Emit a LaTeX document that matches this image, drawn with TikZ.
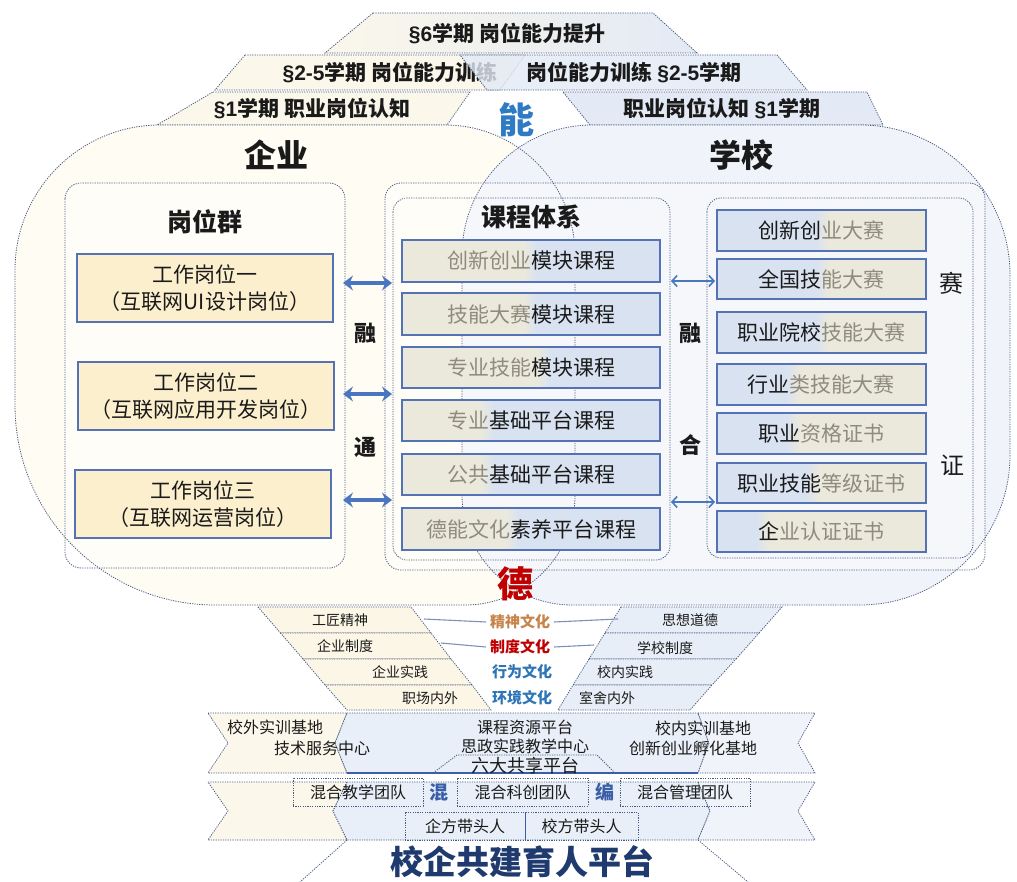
\documentclass[tikz,border=0pt]{standalone}
\usepackage{fontspec}
\setmainfont{Noto Sans CJK SC}
\newfontfamily\lat{Liberation Sans}
\usetikzlibrary{arrows.meta}
\definecolor{dotc}{HTML}{4A5A80}
\definecolor{crm}{HTML}{FBF7EA}
\definecolor{blu}{HTML}{E3EAF5}
\definecolor{entf}{HTML}{FFFCF3}
\definecolor{schf}{HTML}{F0F4FA}
\definecolor{jobf}{HTML}{FCEFCD}
\definecolor{boxb}{HTML}{5573B4}
\definecolor{ccr}{HTML}{EBE9DC}
\definecolor{cbl}{HTML}{D8E2F1}
\definecolor{gtx}{HTML}{8F8C7E}
\definecolor{arrc}{HTML}{4A76C0}
\definecolor{nengc}{HTML}{2E7BC4}
\definecolor{dec}{HTML}{C00000}
\definecolor{jsc}{HTML}{C7834A}
\definecolor{xwc}{HTML}{2E75B6}
\definecolor{titc}{HTML}{1F3A6E}
\definecolor{hunc}{HTML}{3A5FA8}
\definecolor{txt}{HTML}{1A1A1A}
\definecolor{connc}{HTML}{7D90B5}
\definecolor{lrow}{HTML}{FBF6E6}
\definecolor{rrow}{HTML}{E8EEF7}
\definecolor{midb}{HTML}{E9EFF8}
\newcommand{\fz}[1]{\fontsize{#1}{#1}\selectfont}
\newcommand{\cbox}[6]{%
  \fill[cbl] (402,#2) rectangle (660,#3);
  \fill[ccr] (402,#2) rectangle ({#4-7},#3);
  \shade[left color=ccr,right color=cbl] ({#4-7},#2) rectangle ({#4+7},#3);
  \draw[boxline] (402,#2) rectangle (660,#3);
  \node[font=\fz{21}] (#1) at (531,{(#2+#3)/2}) {\textcolor{gtx}{#5}#6};
}
\newcommand{\rbox}[6]{%
  \fill[ccr] (717,#2) rectangle (926,#3);
  \fill[cbl] (717,#2) rectangle ({#4-7},#3);
  \shade[left color=cbl,right color=ccr] ({#4-7},#2) rectangle ({#4+7},#3);
  \draw[boxline] (717,#2) rectangle (926,#3);
  \node[font=\fz{21}] (#1) at (821,{(#2+#3)/2}) {#5\textcolor{gtx}{#6}};
}
\begin{document}
\begin{tikzpicture}[x=1pt,y=-1pt,
 every node/.style={inner sep=0pt,outer sep=0pt,text=txt},
 dotline/.style={draw=dotc,line width=0.8pt,dash pattern=on 1.2pt off 1.2pt},
 boxline/.style={draw=boxb,line width=1.1pt},
 barrow/.style={arrows={Stealth[length=10pt,width=15pt,inset=3.5pt]-Stealth[length=10pt,width=15pt,inset=3.5pt]},line width=3.2pt,draw=arrc},
 sarrow/.style={arrows={Straight Barb[length=5pt,width=11pt]-Straight Barb[length=5pt,width=11pt]},line width=1.6pt,draw=arrc},
 conn/.style={draw=connc,line width=1.1pt},
 jobbox/.style={draw=boxb,line width=1.1pt,fill=jobf,minimum width=256pt,minimum height=68pt,align=center,font=\fontsize{21}{27}\selectfont},
 tbox/.style={dotline,minimum height=28pt,font=\fz{16}},
 bandtxt/.style={font=\fz{21}\bfseries},
 big/.style={font=\fz{32}\bfseries},
 sub/.style={font=\fz{25}\bfseries},
 rong/.style={font=\fz{22}\bfseries},
 cul/.style={font=\fz{14}},
 culc/.style={font=\fz{15}\bfseries},
 plat/.style={font=\fz{16}},
]
\fill[white] (0,0) rectangle (1017,882);
\useasboundingbox (0,0) rectangle (1017,882);

% ---- top bands ----
\shadedraw[left color=crm,right color=blu,dotline] (373,13) -- (653,13) -- (697,53) -- (325,53) -- cycle;
\node[bandtxt] (t6) at (507,34) {{\lat §6}学期 岗位能力提升};
\filldraw[fill=crm,dotline] (245,55) -- (525,55) -- (500,90) -- (215,90) -- cycle;
\node[bandtxt] (t25l) at (390,73) {{\lat §2-5}学期 岗位能力训练};
\filldraw[fill=blu,fill opacity=0.8,dotline] (460,55) -- (777,55) -- (807,90) -- (487,90) -- cycle;
\node[bandtxt] (t25r) at (634,73) {岗位能力训练 {\lat §2-5}学期};
\filldraw[fill=crm,dotline] (213,92) -- (470,92) -- (447,125) -- (157,125) -- cycle;
\node[bandtxt] (t1l) at (312,109) {{\lat §1}学期 职业岗位认知};
\filldraw[fill=blu,dotline] (563,92) -- (867,92) -- (883,125) -- (590,125) -- cycle;
\node[bandtxt] (t1r) at (722,109) {职业岗位认知 {\lat §1}学期};

% ---- big shapes fill ----
\path[fill=entf] (15,270) arc[start angle=180,end angle=270,radius=145] -- (445,125) arc[start angle=270,end angle=360,radius=130] -- (575,495) arc[start angle=0,end angle=90,radius=110] -- (215,605) arc[start angle=90,end angle=180,radius=200] -- cycle;
\path[fill=schf] (462,255) arc[start angle=180,end angle=270,radius=130] -- (860,125) arc[start angle=270,end angle=360,radius=150] -- (1010,455) arc[start angle=0,end angle=90,radius=150] -- (572,605) arc[start angle=90,end angle=180,radius=110] -- cycle;

% ---- frames ----
\filldraw[dotline,fill=white,fill opacity=0.45,rounded corners=16pt] (65,183) rectangle (345,568);
\filldraw[dotline,fill=white,fill opacity=0.35,rounded corners=16pt] (385,183) rectangle (985,570);
\draw[dotline,rounded corners=14pt] (393,198) rectangle (670,560);
\draw[dotline,rounded corners=14pt] (707,198) rectangle (973,558);

% ---- big shapes outline ----
\draw[dotline] (15,270) arc[start angle=180,end angle=270,radius=145] -- (445,125) arc[start angle=270,end angle=360,radius=130] -- (575,495) arc[start angle=0,end angle=90,radius=110] -- (215,605) arc[start angle=90,end angle=180,radius=200] -- cycle;
\draw[dotline] (462,255) arc[start angle=180,end angle=270,radius=130] -- (860,125) arc[start angle=270,end angle=360,radius=150] -- (1010,455) arc[start angle=0,end angle=90,radius=150] -- (572,605) arc[start angle=90,end angle=180,radius=110] -- cycle;

% ---- titles ----
\node[font=\fz{36}\bfseries,text=nengc] (neng) at (516,120) {能};
\node[big] (qiye) at (276,155) {企业};
\node[big] (xuexiao) at (741,155) {学校};
\node[sub] (gwq) at (205,222) {岗位群};
\node[sub] (kctx) at (531,217) {课程体系};

% ---- job boxes ----
\node[jobbox] (job1) at (205,288) {工作岗位一\\（互联网UI设计岗位）};
\node[jobbox] (job2) at (206,396) {工作岗位二\\（互联网应用开发岗位）};
\node[jobbox] (job3) at (203,504) {工作岗位三\\（互联网运营岗位）};

% ---- course boxes ----
\cbox{c1}{240}{282}{530}{创新创业}{模块课程}
\cbox{c2}{293}{335}{530}{技能大赛}{模块课程}
\cbox{c3}{347}{388}{543}{专业技能}{模块课程}
\cbox{c4}{400}{441}{487}{专业}{基础平台课程}
\cbox{c5}{454}{495}{487}{公共}{基础平台课程}
\cbox{c6}{508}{550}{512}{德能文化}{素养平台课程}

% ---- competition / certificate boxes ----
\rbox{r1}{210}{251}{822}{创新创}{业大赛}
\rbox{r2}{259}{299}{822}{全国技}{能大赛}
\rbox{r3}{312}{353}{822}{职业院校}{技能大赛}
\rbox{r4}{364}{405}{793}{行业}{类技能大赛}
\rbox{r5}{413}{454}{793}{职业}{资格证书}
\rbox{r6}{463}{503}{812}{职业技能}{等级证书}
\rbox{r7}{511}{552}{762}{企}{业认证证书}

% ---- arrows ----
\coordinate (la1) at (343,283); \coordinate (lb1) at (392,283);
\coordinate (la2) at (343,394); \coordinate (lb2) at (392,394);
\coordinate (la3) at (343,500); \coordinate (lb3) at (392,500);
\draw[barrow] (la1) -- (lb1);
\draw[barrow] (la2) -- (lb2);
\draw[barrow] (la3) -- (lb3);
\coordinate (ra1) at (671,281); \coordinate (rb1) at (715,281);
\coordinate (ra2) at (671,502); \coordinate (rb2) at (715,502);
\draw[sarrow] (ra1) -- (rb1);
\draw[sarrow] (ra2) -- (rb2);
\node[rong] (rong1) at (365,333) {融};
\node[rong] (tong) at (365,447) {通};
\node[rong] (rong2) at (690,333) {融};
\node[rong] (he) at (690,445) {合};
\node[font=\fz{24}] (sai) at (951,283) {赛};
\node[font=\fz{24}] (zheng) at (952,465) {证};

% ---- culture rows ----
\filldraw[fill=lrow,dotline] (258,607) -- (411,607) -- (431,633) -- (280.5,633) -- cycle;
\filldraw[fill=lrow,dotline] (280.5,633) -- (431,633) -- (451,659) -- (303,659) -- cycle;
\filldraw[fill=lrow,dotline] (303,659) -- (451,659) -- (472,685) -- (325,685) -- cycle;
\filldraw[fill=lrow,dotline] (325,685) -- (472,685) -- (491,710) -- (347,710) -- cycle;
\filldraw[fill=rrow,dotline] (621,607) -- (782,607) -- (759,633) -- (605,633) -- cycle;
\filldraw[fill=rrow,dotline] (605,633) -- (759,633) -- (736,659) -- (589,659) -- cycle;
\filldraw[fill=rrow,dotline] (589,659) -- (736,659) -- (712,685) -- (573,685) -- cycle;
\filldraw[fill=rrow,dotline] (573,685) -- (712,685) -- (690,710) -- (558,710) -- cycle;
\node[font=\fz{36}\bfseries,text=dec] (de) at (515,584) {德};
\node[cul] (gj) at (340,620) {工匠精神};
\node[culc,text=jsc] (jswh) at (520,622) {精神文化};
\node[cul] (sx) at (690,620) {思想道德};
\node[cul] (qz) at (345,646) {企业制度};
\node[culc,text=dec] (zdwh) at (520,647) {制度文化};
\node[cul] (xz) at (665,648) {学校制度};
\node[cul] (qs) at (400,672) {企业实践};
\node[culc,text=xwc] (xwwh) at (522,672) {行为文化};
\node[cul] (xs) at (625,672) {校内实践};
\node[cul] (zc) at (430,698) {职场内外};
\node[culc,text=xwc] (hjwh) at (522,698) {环境文化};
\node[cul] (ss) at (607,698) {室舍内外};
\coordinate (jsL) at (424,619); \coordinate (jsR) at (618,619);
\coordinate (zdL) at (441,643); \coordinate (zdR) at (594,645);
\draw[conn] (jsL) -- ([xshift=-4pt]jswh.west);
\draw[conn] ([xshift=4pt]jswh.east) -- (jsR);
\draw[conn] (zdL) -- ([xshift=-4pt]zdwh.west);
\draw[conn] ([xshift=4pt]zdwh.east) -- (zdR);

% ---- band 5 ----
\filldraw[fill=crm,dotline] (208,713) -- (347,713) -- (335,743) -- (347,773) -- (208,773) -- (228,743) -- cycle;
\filldraw[fill=midb,dotline] (347,713) -- (698,713) -- (709,743) -- (698,773) -- (347,773) -- (335,743) -- cycle;
\filldraw[fill=schf,dotline] (698,713) -- (815,713) -- (798,743) -- (815,773) -- (698,773) -- (709,743) -- cycle;
\draw[dotline] (433,773) -- (457,755) -- (597,755) -- (615,773);
\draw[draw=hunc,line width=1.2pt] (347,773) -- (698,773);
\node[plat] (xw) at (275,727) {校外实训基地};
\node[plat] (jsfw) at (322,748) {技术服务中心};
\node[plat] (kczy) at (525,727) {课程资源平台};
\node[plat] (szsj) at (525,746) {思政实践教学中心};
\node[font=\fz{18}] (ldgx) at (525,766) {六大共享平台};
\node[plat] (xnsx) at (703,728) {校内实训基地};
\node[plat] (cxcy) at (693,748) {创新创业孵化基地};

% ---- band 6 ----
\filldraw[fill=crm,dotline] (208,782) -- (347,782) -- (333,811) -- (347,840) -- (208,840) -- (228,811) -- cycle;
\filldraw[fill=midb,dotline] (347,782) -- (698,782) -- (710,811) -- (698,840) -- (347,840) -- (333,811) -- cycle;
\filldraw[fill=schf,dotline] (698,782) -- (815,782) -- (798,811) -- (815,840) -- (698,840) -- (710,811) -- cycle;
\node[tbox,minimum width=130pt] (tm1) at (358,792) {混合教学团队};
\node[font=\fz{19}\bfseries,text=hunc] (hun) at (439,792) {混};
\node[tbox,minimum width=131pt] (tm2) at (522.5,792) {混合科创团队};
\node[font=\fz{19}\bfseries,text=hunc] (bian) at (605,792) {编};
\node[tbox,minimum width=130pt] (tm3) at (685,792) {混合管理团队};
\node[tbox,minimum width=120pt] (ld1) at (465,826) {企方带头人};
\node[tbox,minimum width=113pt] (ld2) at (581.5,826) {校方带头人};
\draw[draw=hunc,line width=1pt] (ld1.north east) -- (ld1.south east);
\draw[dotline] (347,840) -- (300,882);
\draw[dotline] (698,840) -- (748,882);
\node[font=\fz{33}\bfseries,text=titc] (title) at (522,862) {校企共建育人平台};
\end{tikzpicture}
\end{document}
